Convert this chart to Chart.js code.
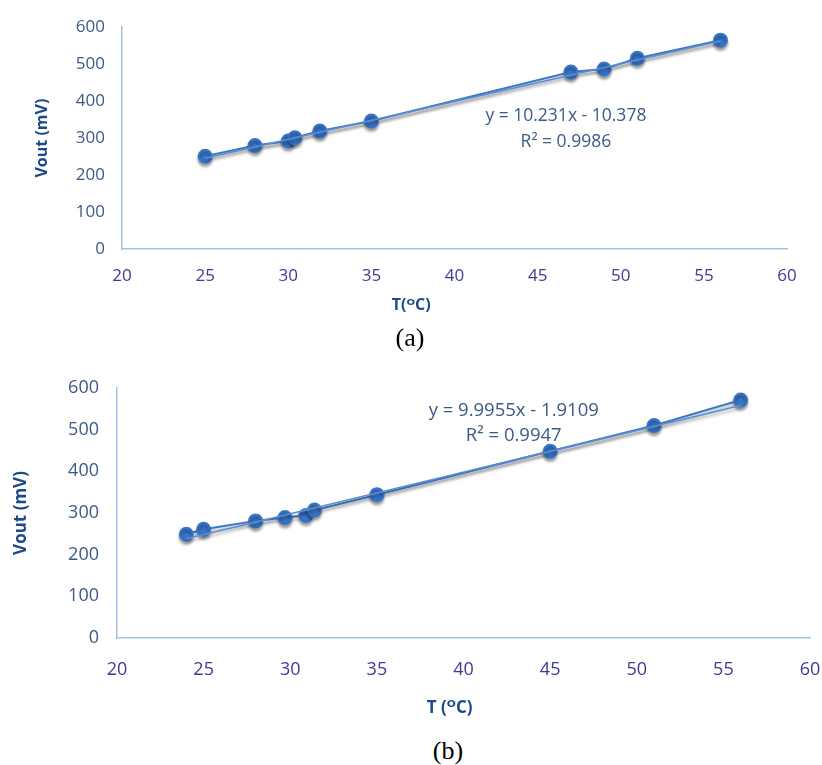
<!DOCTYPE html>
<html>
<head>
<meta charset="utf-8">
<script src="https://cdn.jsdelivr.net/npm/chart.js@4/dist/chart.umd.min.js"></script>
<style>
  body { margin: 0; background: #fff; width: 822px; height: 765px; position: relative; overflow: hidden; }
  .panel { position: absolute; left: 0; width: 822px; }
  .caption { position: absolute; font-family: "Liberation Serif", "Times New Roman", serif; font-size: 26px; color: #000; transform: translate(-50%, -50%); }
</style>
</head>
<body>
<div class="panel" style="top:0;height:320px"><canvas id="chartA"></canvas></div>
<div class="panel" style="top:350px;height:370px"><canvas id="chartB"></canvas></div>
<div class="caption" style="left:410px;top:338px">(a)</div>
<div class="caption" style="left:448px;top:751px">(b)</div>
<script>
// panel (a) data
const tempA = [25, 28, 30, 30.4, 31.9, 35, 47, 49, 51, 56];
const voutA = [251, 280, 292, 301, 319, 346, 479, 487, 516, 565];
const slopeA = 10.231, interceptA = -10.378;
const eqA = ["y = 10.231x - 10.378", "R\u00b2 = 0.9986"];

// panel (b) data
const tempB = [24, 25, 28, 29.7, 30.9, 31.4, 35, 45, 51, 56];
const voutB = [249, 261, 281, 289, 294, 307, 344, 448, 510, 571];
const slopeB = 9.9955, interceptB = -1.9109;
const eqB = ["y = 9.9955x - 1.9109", "R\u00b2 = 0.9947"];

const xTicks = [20, 25, 30, 35, 40, 45, 50, 55, 60];
const yTicks = [0, 100, 200, 300, 400, 500, 600];

const FONT = "'Open Sans', 'DejaVu Sans', sans-serif";

// shadow under the series like the excel effect
const shadowPlugin = {
    id: 'shadow',
    beforeDatasetsDraw(chart){
        const ctx = chart.ctx;
        ctx.save();
        ctx.shadowColor = 'rgba(0,0,0,0.35)';
        ctx.shadowBlur = 3;
        ctx.shadowOffsetY = 3;
    },
    afterDatasetsDraw(chart){
        chart.ctx.restore();
    }
};

// trendline equation text, placed in data units
const equationPlugin = {
    id: 'equation',
    afterDraw(chart, args, opts){
        const ctx = chart.ctx;
        const x = chart.scales.x.getPixelForValue(opts.x);
        const y = chart.scales.y.getPixelForValue(opts.y);
        ctx.save();
        ctx.font = opts.size + 'px ' + FONT;
        ctx.fillStyle = '#3B5A86';
        ctx.textAlign = 'center';
        ctx.textBaseline = 'middle';
        opts.lines.forEach((line, i) => ctx.fillText(line, x, y + i * opts.gap));
        ctx.restore();
    }
};

// x axis title, not centred on the axis in the original
const xTitlePlugin = {
    id: 'xTitle',
    afterDraw(chart, args, opts){
        const ctx = chart.ctx;
        const scale = chart.scales.x;
        ctx.save();
        ctx.font = 'bold ' + opts.size + 'px ' + FONT;
        ctx.fillStyle = '#1F4A8A';
        ctx.textAlign = 'center';
        ctx.textBaseline = 'middle';
        ctx.fillText(opts.text, scale.getPixelForValue(opts.at), scale.bottom - opts.fromBottom);
        ctx.restore();
    }
};

function makeChart(id, temps, vouts, slope, intercept, cfg){
    const points = temps.map((t, i) => ({x: t, y: vouts[i]}));
    const x0 = temps[0], x1 = temps[temps.length - 1];
    const trend = [{x: x0, y: slope * x0 + intercept}, {x: x1, y: slope * x1 + intercept}];

    return new Chart(document.getElementById(id), {
        type: 'scatter',
        data: {
            datasets: [{
                data: trend,
                showLine: true,
                borderColor: '#5A8ED4',
                borderWidth: 1.5,
                pointRadius: 0
            }, {
                data: points,
                showLine: true,
                borderColor: '#3B78C8',
                borderWidth: 2,
                pointRadius: cfg.radius,
                pointBackgroundColor: '#3874C6',
                pointBorderColor: '#3874C6'
            }]
        },
        options: {
            responsive: true,
            maintainAspectRatio: false,
            animation: false,
            layout: { padding: { left: 0, top: cfg.padTop, right: cfg.padRight, bottom: 0 } },
            plugins: {
                legend: { display: false },
                tooltip: { enabled: false },
                equation: cfg.eq,
                xTitle: cfg.xTitle
            },
            scales: {
                x: {
                    type: 'linear',
                    min: 20, max: 60,
                    afterBuildTicks: (s) => { s.ticks = xTicks.map(v => ({value: v})); },
                    afterFit: (s) => { s.height = cfg.xHeight; s.paddingLeft = 0; s.paddingRight = 0; },
                    grid: { display: false, drawTicks: false },
                    border: { display: true, color: '#9DC3E6', width: 1.5 },
                    ticks: { color: '#3D3B96', font: { family: FONT, size: cfg.tick }, padding: cfg.xPad, maxRotation: 0 }
                },
                y: {
                    min: 0, max: 600,
                    afterBuildTicks: (s) => { s.ticks = yTicks.map(v => ({value: v})); },
                    afterFit: (s) => { s.width = cfg.yWidth; },
                    grid: { display: false, drawTicks: false },
                    border: { display: true, color: '#9DC3E6', width: 1.5 },
                    ticks: { color: '#3B5A86', font: { family: FONT, size: cfg.tick }, padding: cfg.yPad },
                    title: { display: true, text: 'Vout (mV)', color: '#1F4A8A', font: { family: FONT, size: cfg.title, weight: 'bold' }, padding: { top: cfg.yTitlePad, bottom: 0 } }
                }
            }
        },
        plugins: [shadowPlugin, equationPlugin, xTitlePlugin]
    });
}

makeChart('chartA', tempA, voutA, slopeA, interceptA, {
    padTop: 20, padRight: 35, xHeight: 71, yWidth: 122,
    tick: 17, title: 16, xPad: 17, yPad: 17, yTitlePad: 33, radius: 6.5,
    xTitle: { text: 'T(\u1D3CC)', at: 37.4, fromBottom: 15, size: 16 },
    eq: { x: 46.7, y: 359, gap: 26, size: 17.5, lines: eqA }
});

makeChart('chartB', tempB, voutB, slopeB, interceptB, {
    padTop: 38, padRight: 12, xHeight: 82, yWidth: 117,
    tick: 18, title: 17, xPad: 21, yPad: 18, yTitlePad: 11, radius: 6.5,
    xTitle: { text: 'T (\u1D3CC)', at: 39.2, fromBottom: 12, size: 17 },
    eq: { x: 42.9, y: 546, gap: 25, size: 18.5, lines: eqB }
});
</script>
</body>
</html>
